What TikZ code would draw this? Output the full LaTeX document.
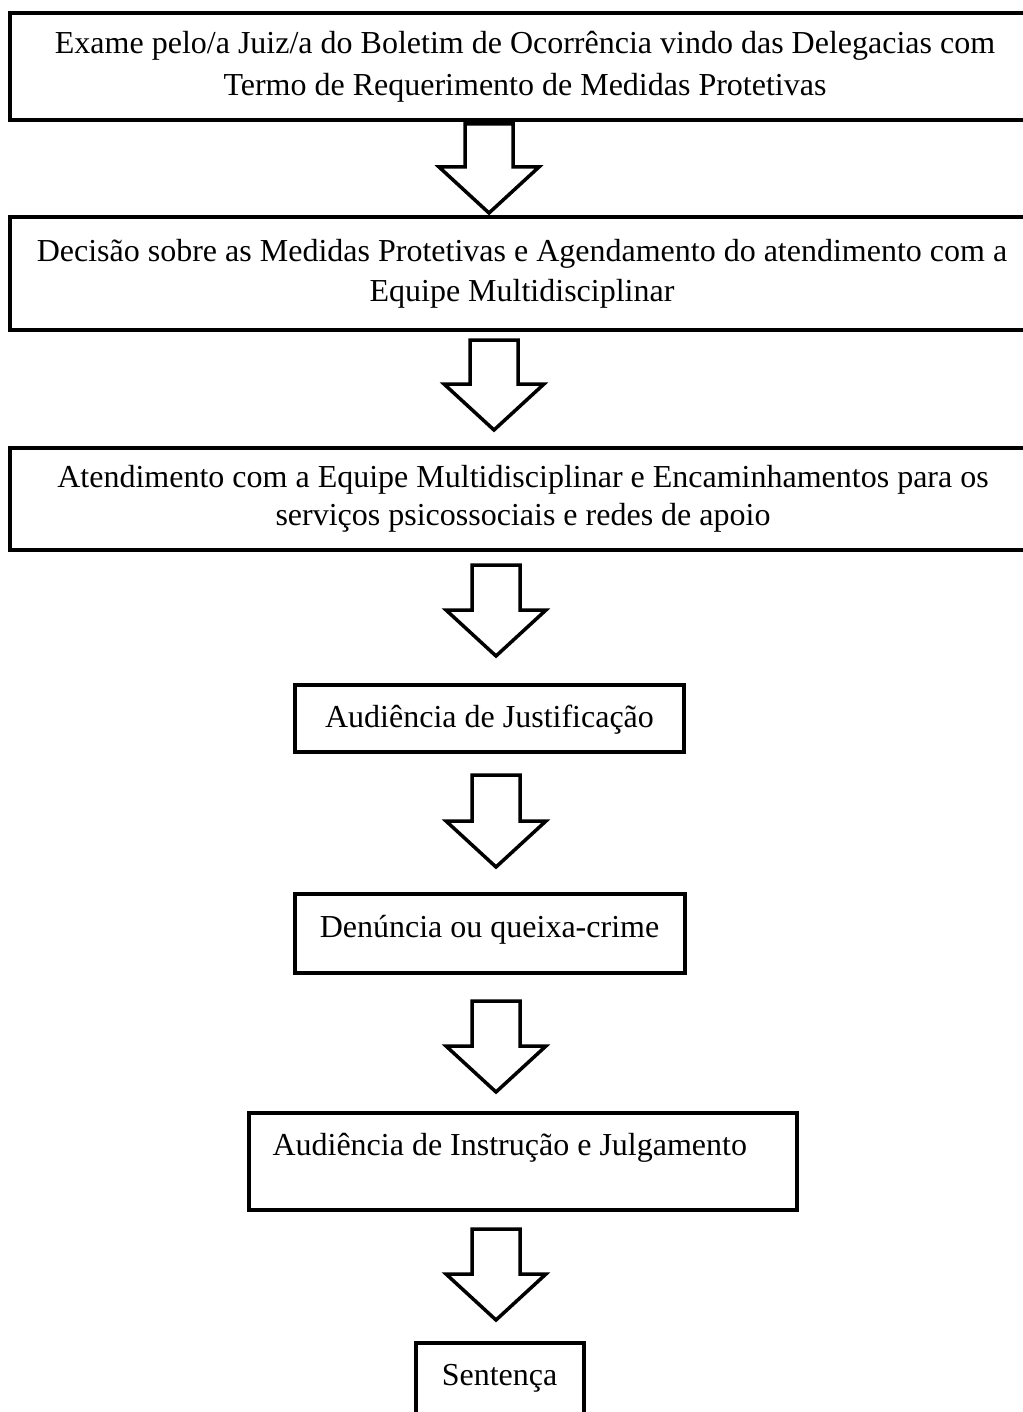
\documentclass[tikz,border=0pt]{standalone}
\usepackage{fontspec}
\setmainfont{Liberation Serif}
\usetikzlibrary{positioning,calc}

\begin{document}
\begin{tikzpicture}[
  box/.style={draw, line width=2pt, align=center, inner sep=0pt, outer sep=0pt,
    font=\fontsize{16pt}{20pt}\selectfont},
  blockarr/.style={line width=1.75pt, line join=miter,
    to path={let \p1=(\tikztostart), \p2=(\tikztotarget) in
      (\x1-12pt,\y1) -- (\x1+12pt,\y1) -- (\x1+12pt,\y2+23pt) -- (\x1+25pt,\y2+23pt)
      -- (\x2,\y2) -- (\x1-25pt,\y2+23pt) -- (\x1-12pt,\y2+23pt) -- cycle}}]
\useasboundingbox (0,0) rectangle (511pt,-706pt);
\coordinate (ax) at (248pt,0);
\node[box, minimum width=515pt, minimum height=53.5pt, anchor=north] (exame) at (262.5pt,-6.5pt)
  {Exame pelo/a Juiz/a do Boletim de Ocorrência vindo das Delegacias com\\[1pt]Termo de Requerimento de Medidas Protetivas};
\node[box, minimum width=512pt, minimum height=56.5pt, below=48.5pt of exame, xshift=-1.5pt] (decisao)
  {Decisão sobre as Medidas Protetivas e Agendamento do atendimento com a\\Equipe Multidisciplinar};
\node[box, minimum width=513pt, minimum height=51pt, below=59pt of decisao, xshift=0.5pt] (atend)
  {Atendimento com a Equipe Multidisciplinar e Encaminhamentos para os\\[-1pt]serviços psicossociais e redes de apoio};
\node[box, minimum width=194.5pt, text height=21pt, text depth=12.5pt, below=67.5pt of atend, xshift=-16.75pt] (justif)
  {Audiência de Justificação};
\node[box, minimum width=195pt, text height=21.5pt, text depth=18pt, below=71pt of justif] (denuncia)
  {Denúncia ou queixa-crime};
\node[box, text width=250pt, align=flush left, inner xsep=12pt, text height=21pt, text depth=27.5pt, below=70pt of denuncia, xshift=16.5pt] (instr)
  {Audiência de Instrução e Julgamento};
\node[box, minimum width=84pt, text height=21pt, text depth=40pt, below=66.5pt of instr, xshift=-11.5pt] (sentenca)
  {Sentença};
% setas
\draw[blockarr] ($(exame.south -| ax)+(-3.5pt,-2pt)$) to ($(decisao.north -| ax)+(-3.5pt,2pt)$);
\draw[blockarr] ($(decisao.south -| ax)+(-1pt,-5pt)$) to ($(atend.north -| ax)+(-1pt,9pt)$);
\draw[blockarr] ($(atend.south -| ax)+(0,-7.5pt)$) to ($(justif.north -| ax)+(0,14.5pt)$);
\draw[blockarr] ($(justif.south -| ax)+(0,-11.5pt)$) to ($(denuncia.north -| ax)+(0,13.5pt)$);
\draw[blockarr] ($(denuncia.south -| ax)+(0,-14pt)$) to ($(instr.north -| ax)+(0,10.5pt)$);
\draw[blockarr] ($(instr.south -| ax)+(0,-9.5pt)$) to ($(sentenca.north -| ax)+(0,11.5pt)$);
\end{tikzpicture}
\end{document}
